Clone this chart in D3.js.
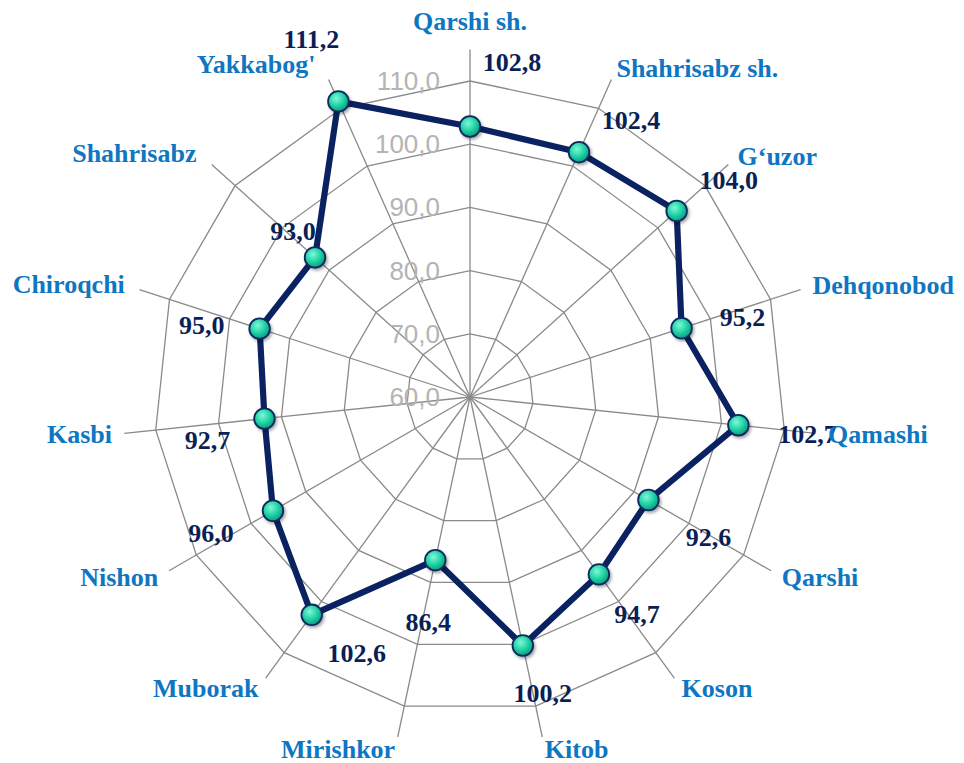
<!DOCTYPE html>
<html>
<head>
<meta charset="utf-8">
<script src="https://cdn.jsdelivr.net/npm/d3@7"></script>
<style>
  html, body { margin: 0; padding: 0; background: #fff; }
  #radar { width: 964px; height: 763px; }
</style>
</head>
<body>
<div id="radar"></div>
<script>
// data
const categories = ["Qarshi sh.", "Shahrisabz sh.", "G\u2018uzor", "Dehqonobod", "Qamashi", "Qarshi",
    "Koson", "Kitob", "Mirishkor", "Muborak", "Nishon", "Kasbi", "Chiroqchi", "Shahrisabz", "Yakkabog'"];
const values = [102.8, 102.4, 104.0, 95.2, 102.7, 92.6, 94.7, 100.2, 86.4, 102.6, 96.0, 92.7, 95.0, 93.0, 111.2];
const ringTicks = [60, 70, 80, 90, 100, 110];
const axisMax = 115;

// value labels were dragged around by hand in the original, so nudge each one from its point
const labelNudge = [[42, -64], [52, -32], [52, -30], [61, -11], [69, 9], [60, 37], [38, 40], [20, 48],
    [-7, 62], [45, 39], [-62, 23], [-57, 22], [-58, -3], [-22, -26], [-27, -62]];

function drawRadar() {
    const width = 964, height = 763;
    const cx = 470, cy = 397;
    const fmt = v => d3.format(".1f")(v).replace(".", ",");

    const svg = d3.select("#radar").append("svg")
        .attr("width", width)
        .attr("height", height);

    const defs = svg.append("defs");
    const grad = defs.append("radialGradient")
        .attr("id", "dotFill")
        .attr("cx", "40%").attr("cy", "35%").attr("r", "65%");
    grad.append("stop").attr("offset", "0%").attr("stop-color", "#7ff7d8");
    grad.append("stop").attr("offset", "55%").attr("stop-color", "#22d4a6");
    grad.append("stop").attr("offset", "100%").attr("stop-color", "#0c9c80");
    defs.append("filter").attr("id", "shadow")
        .attr("x", "-50%").attr("y", "-50%").attr("width", "200%").attr("height", "200%")
        .append("feDropShadow")
        .attr("dx", 1.5).attr("dy", 2).attr("stdDeviation", 1.6)
        .attr("flood-color", "#000").attr("flood-opacity", 0.35);

    const g = svg.append("g").attr("transform", `translate(${cx},${cy})`);

    const r = d3.scaleLinear().domain([60, axisMax]).range([0, 347.6]);
    const angle = d3.scalePoint().domain(d3.range(categories.length))
        .range([0, 2 * Math.PI * (categories.length - 1) / categories.length]);
    const px = (i, v) => r(v) * Math.sin(angle(i));
    const py = (i, v) => -r(v) * Math.cos(angle(i));

    // --- grid rings ---
    const ringLine = d3.lineRadial().angle((d, i) => angle(i)).radius(d => r(d)).curve(d3.curveLinearClosed);
    g.append("g").attr("class", "rings")
        .selectAll("path")
        .data(ringTicks.filter(t => t > 60))
        .join("path")
        .attr("d", t => ringLine(categories.map(() => t)))
        .attr("fill", "none")
        .attr("stroke", "#8a8a8a")
        .attr("stroke-width", 1.3);

    // --- spokes ---
    g.append("g").attr("class", "spokes")
        .selectAll("line")
        .data(categories)
        .join("line")
        .attr("x1", 0).attr("y1", 0)
        .attr("x2", (d, i) => px(i, axisMax))
        .attr("y2", (d, i) => py(i, axisMax))
        .attr("stroke", "#8a8a8a")
        .attr("stroke-width", 1.3);

    // --- ring tick labels along the top spoke ---
    g.append("g").attr("class", "ticks")
        .selectAll("text")
        .data(ringTicks)
        .join("text")
        .attr("x", -30)
        .attr("y", t => -r(t))
        .attr("text-anchor", "end")
        .attr("dominant-baseline", "central")
        .style("font-family", "'Liberation Sans', Arial, sans-serif")
        .style("font-size", "26px")
        .style("fill", "#b4b4b4")
        .text(fmt);

    // --- series line ---
    const seriesLine = d3.lineRadial().angle((d, i) => angle(i)).radius(d => r(d)).curve(d3.curveLinearClosed);
    g.append("path")
        .attr("d", seriesLine(values))
        .attr("fill", "none")
        .attr("stroke", "#0b2262")
        .attr("stroke-width", 6.2)
        .attr("stroke-linejoin", "round");

    // --- markers ---
    g.append("g").attr("class", "dots")
        .selectAll("circle")
        .data(values)
        .join("circle")
        .attr("cx", (d, i) => px(i, d))
        .attr("cy", (d, i) => py(i, d))
        .attr("r", 10.3)
        .attr("fill", "url(#dotFill)")
        .attr("stroke", "#0c2a5e")
        .attr("stroke-width", 1.8)
        .attr("filter", "url(#shadow)");

    // --- value labels ---
    g.append("g").attr("class", "values")
        .selectAll("text")
        .data(values)
        .join("text")
        .attr("x", (d, i) => px(i, d) + labelNudge[i][0])
        .attr("y", (d, i) => py(i, d) + labelNudge[i][1])
        .attr("text-anchor", "middle")
        .attr("dominant-baseline", "central")
        .style("font-family", "'Liberation Serif', 'Times New Roman', serif")
        .style("font-weight", "bold")
        .style("font-size", "26px")
        .style("fill", "#0b1f57")
        .text(fmt);

    // --- category labels ---
    const labelR = 360;
    g.append("g").attr("class", "categories")
        .selectAll("text")
        .data(categories)
        .join("text")
        .each(function (d, i) {
            const s = Math.sin(angle(i)), c = Math.cos(angle(i));
            const top = Math.abs(s) < 0.1;
            // upper-left labels sit a little further out in the original
            const extra = (s < 0 && c > 0) ? 9 * c : 0;
            d3.select(this)
                .attr("x", labelR * s - extra)
                .attr("y", -labelR * c - (top ? 16 : extra * 0.4))
                .attr("text-anchor", top ? "middle" : (s > 0 ? "start" : "end"));
        })
        .attr("dominant-baseline", "central")
        .style("font-family", "'Liberation Serif', 'Times New Roman', serif")
        .style("font-weight", "bold")
        .style("font-size", "26px")
        .style("fill", "#0f76c2")
        .text(d => d);
}

drawRadar();
</script>
</body>
</html>
